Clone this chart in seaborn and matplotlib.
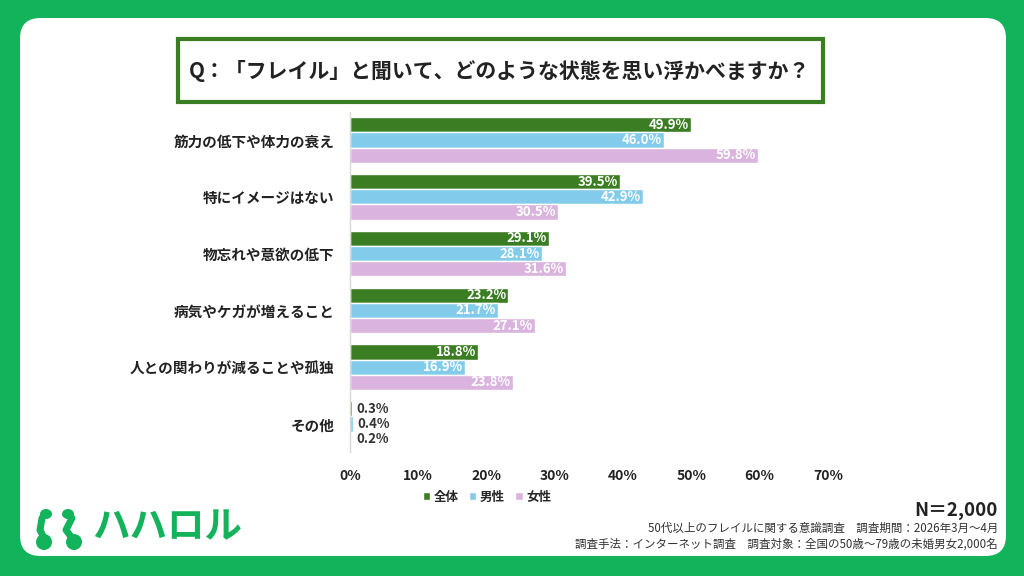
import pandas as pd
import matplotlib.pyplot as plt
import seaborn as sns
from matplotlib.patches import FancyBboxPatch, Rectangle, Ellipse
from matplotlib.lines import Line2D

categories = ["筋力の低下や体力の衰え", "特にイメージはない", "物忘れや意欲の低下",
              "病気やケガが増えること", "人との関わりが減ることや孤独", "その他"]
groups = ["全体", "男性", "女性"]
total = [49.9, 39.5, 29.1, 23.2, 18.8, 0.3]
male = [46.0, 42.9, 28.1, 21.7, 16.9, 0.4]
female = [59.8, 30.5, 31.6, 27.1, 23.8, 0.2]
ticks = [0, 10, 20, 30, 40, 50, 60, 70]

colors = ["#3a7d22", "#83cbeb", "#dab3de"]
bg_green = "#12b35a"

df = pd.DataFrame({
    "item": categories * 3,
    "group": [g for g in groups for _ in categories],
    "value": total + male + female,
})

sns.set_theme(style="white")
plt.rcParams["font.family"] = ["Noto Sans CJK JP", "DejaVu Sans"]
plt.rcParams["font.weight"] = "bold"

fig = plt.figure(figsize=(10.24, 5.76), dpi=100)
fig.patch.set_facecolor(bg_green)
W, H = 1024, 576

def fx(px):
    return px / W

def fy(py):
    return 1 - py / H

# white panel
panel = FancyBboxPatch((fx(20), fy(556)), fx(986), 538 / H,
                       boxstyle="round,pad=0,rounding_size=0.02",
                       transform=fig.transFigure, facecolor="white",
                       edgecolor="none", zorder=-5, mutation_aspect=W / H)
fig.patches.append(panel)

# title box
fig.patches.append(Rectangle((fx(178), fy(102)), fx(645), 63 / H,
                             transform=fig.transFigure, facecolor="white",
                             edgecolor="#3a7d22", linewidth=3, zorder=-4))
fig.text(fx(500), fy(71), "Q：「フレイル」と聞いて、どのような状態を思い浮かべますか？",
         ha="center", va="center", fontsize=15, fontweight="bold", color="#222222")

ax = fig.add_axes([fx(350), fy(452.4), fx(478), 340.8 / H])
ax.set_facecolor("none")
sns.barplot(data=df, y="item", x="value", hue="group", palette=colors,
            orient="h", width=0.8, saturation=1, ax=ax, legend=True)

ax.set_xlim(0, 70)
ax.set_xticks(ticks)
ax.set_xticklabels([f"{t}%" for t in ticks], fontsize=10, fontweight="bold", color="#222222")
ax.tick_params(axis="y", labelsize=10.5, pad=11, length=0, labelcolor="#222222")
ax.tick_params(axis="x", pad=12, length=0)
for lab in ax.get_yticklabels():
    lab.set_fontweight("bold")
ax.set_xlabel("")
ax.set_ylabel("")
for s in ["top", "right", "bottom"]:
    ax.spines[s].set_visible(False)
ax.spines["left"].set_color("#d9d9d9")
ax.spines["left"].set_linewidth(1)

for cont in ax.containers:
    for bar in cont:
        v = bar.get_width()
        yc = bar.get_y() + bar.get_height() / 2
        if v < 5:
            ax.text(v + 0.7, yc, f"{v:.1f}%", ha="left", va="center",
                    fontsize=9.5, fontweight="bold", color="#333333")
        else:
            ax.text(v - 0.3, yc, f"{v:.1f}%", ha="right", va="center",
                    fontsize=9.5, fontweight="bold", color="white")

sns.move_legend(ax, "center", bbox_to_anchor=(fx(487), fy(497)),
                bbox_transform=fig.transFigure, ncol=3, frameon=False,
                title=None, fontsize=9, handlelength=0.6, handleheight=0.6,
                handletextpad=0.3, columnspacing=0.8)
for t in ax.get_legend().get_texts():
    t.set_fontweight("bold")

# logo
fig.text(fx(92), fy(527), "ハハロル", ha="left", va="center", fontsize=27,
         fontweight="bold", color=bg_green)
icon_kw = dict(transform=fig.transFigure, facecolor=bg_green, edgecolor="none")
fig.patches.append(Ellipse((fx(44), fy(542)), 16 / W, 16 / H, **icon_kw))
fig.patches.append(Ellipse((fx(74), fy(542)), 16 / W, 16 / H, **icon_kw))
fig.patches.append(Ellipse((fx(46), fy(514)), 12 / W, 10 / H, **icon_kw))
fig.patches.append(Ellipse((fx(68), fy(514)), 12 / W, 10 / H, **icon_kw))
fig.lines.append(Line2D([fx(42), fx(40), fx(44)], [fy(518), fy(530), fy(538)],
                        transform=fig.transFigure, color=bg_green, lw=5,
                        solid_capstyle="round"))
fig.lines.append(Line2D([fx(72), fx(66), fx(72)], [fy(518), fy(530), fy(538)],
                        transform=fig.transFigure, color=bg_green, lw=5,
                        solid_capstyle="round"))

fig.text(fx(998), fy(510), "N＝2,000", ha="right", va="center", fontsize=13.5,
         fontweight="bold", color="#222222")
fig.text(fx(998), fy(528), "50代以上のフレイルに関する意識調査　調査期間：2026年3月～4月",
         ha="right", va="center", fontsize=8.3, fontweight="normal", color="#333333")
fig.text(fx(998), fy(544), "調査手法：インターネット調査　調査対象：全国の50歳～79歳の未婚男女2,000名",
         ha="right", va="center", fontsize=8.3, fontweight="normal", color="#333333")

fig.savefig("out.png", dpi=100, facecolor=fig.get_facecolor())
